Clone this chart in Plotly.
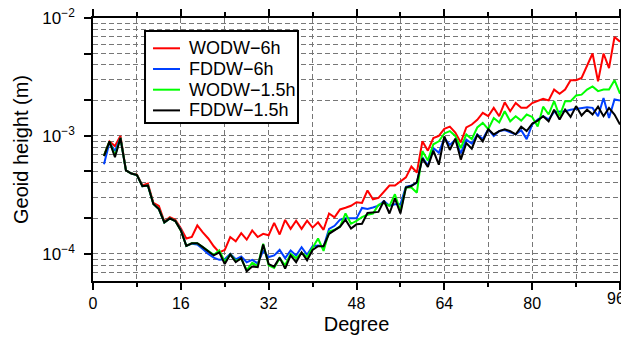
import plotly.graph_objects as go

degrees = list(range(2, 97))

wodw_6h = [6.8e-4, 9.0e-4, 8.2e-4, 1.0e-3, 5.1e-4, 4.8e-4, 4.7e-4, 3.8e-4, 3.95e-4, 2.7e-4,
           2.55e-4, 1.88e-4, 2.05e-4, 1.95e-4, 1.65e-4, 1.35e-4, 1.39e-4, 1.74e-4, 1.52e-4, 1.35e-4,
           1.16e-4, 1.03e-4, 1.08e-4, 1.39e-4, 1.28e-4, 1.5e-4, 1.32e-4, 1.58e-4, 1.39e-4, 1.48e-4,
           1.44e-4, 1.83e-4, 1.46e-4, 1.94e-4, 1.63e-4, 1.91e-4, 1.63e-4, 1.91e-4, 1.67e-4, 1.85e-4,
           1.6e-4, 2.2e-4, 2.04e-4, 2.38e-4, 2.46e-4, 2.56e-4, 2.74e-4, 2.7e-4, 3.45e-4, 2.9e-4,
           2.98e-4, 3.4e-4, 3.8e-4, 3.8e-4, 4.15e-4, 4.45e-4, 5.5e-4, 4.9e-4, 9.0e-4, 7.5e-4,
           9.6e-4, 1.0e-3, 1.15e-3, 1.2e-3, 1.07e-3, 8.8e-4, 1.18e-3, 1.25e-3, 1.37e-3, 1.57e-3,
           1.47e-3, 1.73e-3, 1.47e-3, 1.93e-3, 1.62e-3, 1.9e-3, 1.73e-3, 1.73e-3, 1.9e-3, 1.97e-3,
           2.06e-3, 2.0e-3, 2.47e-3, 2.28e-3, 2.47e-3, 2.97e-3, 2.97e-3, 3.1e-3, 3.88e-3, 5.0e-3,
           2.9e-3, 5.0e-3, 3.76e-3, 6.9e-3, 6.3e-3]

fddw_6h = [5.75e-4, 8.8e-4, 7.45e-4, 9.6e-4, 5.1e-4, 4.8e-4, 4.65e-4, 3.75e-4, 3.8e-4, 2.65e-4,
           2.4e-4, 1.85e-4, 2.0e-4, 1.9e-4, 1.6e-4, 1.17e-4, 1.22e-4, 1.2e-4, 1.1e-4, 1.0e-4,
           9.3e-5, 8.9e-5, 9.0e-5, 1.0e-4, 9.0e-5, 9.5e-5, 8.5e-5, 8.9e-5, 8.3e-5, 1.06e-4,
           9.4e-5, 9.7e-5, 1.08e-4, 9.2e-5, 1.07e-4, 9.7e-5, 1.14e-4, 9.8e-5, 1.16e-4, 1.18e-4,
           1.15e-4, 1.63e-4, 1.73e-4, 1.95e-4, 2.0e-4, 2.0e-4, 2.0e-4, 2.45e-4, 2.4e-4, 2.47e-4,
           2.56e-4, 2.8e-4, 2.56e-4, 2.63e-4, 2.63e-4, 3.7e-4, 3.8e-4, 4.0e-4, 6.6e-4, 5.6e-4,
           7.9e-4, 7.2e-4, 9.6e-4, 8.4e-4, 9.3e-4, 7.1e-4, 9.3e-4, 8.6e-4, 1.03e-3, 9.4e-4,
           1.14e-3, 1.0e-3, 1.1e-3, 1.12e-3, 1.07e-3, 1.03e-3, 1.12e-3, 9.4e-4, 1.25e-3, 1.38e-3,
           1.47e-3, 1.38e-3, 1.6e-3, 1.62e-3, 1.62e-3, 1.67e-3, 1.7e-3, 1.73e-3, 1.75e-3, 1.73e-3,
           1.47e-3, 2.1e-3, 1.42e-3, 2.04e-3, 2.0e-3]

wodw_15h = [6.8e-4, 9.0e-4, 6.8e-4, 9.6e-4, 5.1e-4, 4.8e-4, 4.65e-4, 3.75e-4, 3.8e-4, 2.65e-4,
            2.4e-4, 1.85e-4, 2.0e-4, 1.9e-4, 1.58e-4, 1.17e-4, 1.23e-4, 1.23e-4, 1.14e-4, 1.06e-4,
            9.8e-5, 1.07e-4, 8.6e-5, 9.9e-5, 8.7e-5, 9.1e-5, 7.3e-5, 8.4e-5, 7.9e-5, 1.22e-4,
            8.0e-5, 7.6e-5, 9.2e-5, 8.0e-5, 1.0e-4, 9.2e-5, 1.02e-4, 9.4e-5, 1.13e-4, 1.35e-4,
            1.06e-4, 1.55e-4, 1.6e-4, 1.7e-4, 2.2e-4, 1.8e-4, 1.9e-4, 2.05e-4, 2.15e-4, 2.2e-4,
            2.6e-4, 2.7e-4, 2.55e-4, 3.2e-4, 2.3e-4, 3.65e-4, 3.65e-4, 3.3e-4, 7.45e-4, 6.2e-4,
            8.5e-4, 9.0e-4, 1.05e-3, 1.1e-3, 1.0e-3, 7.9e-4, 1.03e-3, 9.4e-4, 1.18e-3, 1.29e-3,
            1.14e-3, 1.42e-3, 1.3e-3, 1.62e-3, 1.33e-3, 1.47e-3, 1.35e-3, 1.52e-3, 1.45e-3, 1.2e-3,
            1.77e-3, 1.52e-3, 1.97e-3, 1.47e-3, 1.97e-3, 1.97e-3, 2.2e-3, 2.24e-3, 2.47e-3, 2.63e-3,
            2.4e-3, 2.47e-3, 2.47e-3, 2.97e-3, 2.28e-3]

fddw_15h = [6.75e-4, 9.0e-4, 6.6e-4, 9.6e-4, 5.1e-4, 4.8e-4, 4.65e-4, 3.75e-4, 3.8e-4, 2.65e-4,
            2.4e-4, 1.85e-4, 2.0e-4, 1.9e-4, 1.58e-4, 1.17e-4, 1.23e-4, 1.23e-4, 1.14e-4, 1.06e-4,
            9.7e-5, 1.03e-4, 8.2e-5, 9.9e-5, 8.5e-5, 9.2e-5, 7.1e-5, 7.8e-5, 7.7e-5, 1.2e-4,
            8.2e-5, 7.8e-5, 9.3e-5, 7.5e-5, 9.7e-5, 8.5e-5, 1.03e-4, 8.8e-5, 1.08e-4, 1.16e-4,
            1.16e-4, 1.48e-4, 1.6e-4, 1.7e-4, 1.95e-4, 1.64e-4, 1.78e-4, 1.8e-4, 2.22e-4, 2.25e-4,
            2.27e-4, 2.82e-4, 2.2e-4, 2.95e-4, 2.2e-4, 3.65e-4, 3.76e-4, 4.05e-4, 6.45e-4, 5.45e-4,
            7.5e-4, 5.7e-4, 9.9e-4, 7.6e-4, 9.5e-4, 6.3e-4, 8.7e-4, 7.8e-4, 1.02e-3, 9.0e-4,
            1.14e-3, 1.03e-3, 1.1e-3, 1.14e-3, 1.1e-3, 1.03e-3, 1.2e-3, 1.1e-3, 1.27e-3, 1.35e-3,
            1.47e-3, 1.33e-3, 1.67e-3, 1.38e-3, 1.67e-3, 1.45e-3, 1.79e-3, 1.49e-3, 1.67e-3, 1.52e-3,
            1.77e-3, 1.47e-3, 1.73e-3, 1.52e-3, 1.25e-3]

series_names = ["WODW\u22126h", "FDDW\u22126h", "WODW\u22121.5h", "FDDW\u22121.5h"]
series_values = [wodw_6h, fddw_6h, wodw_15h, fddw_15h]
series_colors = ["#ff0000", "#0040ff", "#00ff00", "#000000"]

x_major = list(range(0, 97, 16))
x_major_text = [str(v) for v in x_major[:-1]] + [""]   # last label is placed separately
x_last_label = str(x_major[-1])
x_minor = list(range(8, 96, 16))

y_tickvals = [1e-4, 2e-4, 5e-4, 1e-3, 2e-3, 5e-3, 1e-2]
y_ticktext = ["10<sup>\u22124</sup>", "", "", "10<sup>\u22123</sup>", "", "", "10<sup>\u22122</sup>"]
y_gridvals = [m * 10.0 ** e for e in (-5, -4, -3) for m in range(1, 10)] + [1e-2]

fig = go.Figure()
for name, vals, col in zip(series_names, series_values, series_colors):
    fig.add_trace(go.Scatter(x=degrees, y=vals, mode="lines", name=name,
                             line=dict(color=col, width=2), showlegend=False))

font_family = "Liberation Sans, Arial, sans-serif"
grid_kw = dict(gridcolor="#777777", gridwidth=1, griddash="5px,3px")

# legend box drawn in paper coordinates (tight row spacing as in the original)
leg_box = dict(x0=0.0987, x1=0.389, y0=0.601, y1=0.9506)
leg_rows = [0.8848, 0.8061, 0.7274, 0.6487]
leg_line_x = (0.1139, 0.1651)
leg_text_x = 0.1784

shapes = [dict(type="rect", xref="paper", yref="paper", layer="above",
               fillcolor="white", line=dict(color="black", width=2), **leg_box)]
annotations = []
for name, col, ry in zip(series_names, series_colors, leg_rows):
    shapes.append(dict(type="line", xref="paper", yref="paper", layer="above",
                       x0=leg_line_x[0], x1=leg_line_x[1], y0=ry, y1=ry,
                       line=dict(color=col, width=2)))
    annotations.append(dict(text=name, xref="paper", yref="paper", x=leg_text_x, y=ry,
                            xanchor="left", yanchor="middle", showarrow=False,
                            font=dict(size=18, color="black")))

# last x tick label, kept inside the page edge
annotations.append(dict(text=x_last_label, xref="x", yref="paper", x=x_major[-1], y=0,
                        xanchor="center", yanchor="top", xshift=-4, yshift=-7,
                        showarrow=False, font=dict(size=16, color="black")))

# the page body adds an 8px offset; the figure is sized to end at the window edge
fig.update_layout(
    width=621, height=331,
    margin=dict(l=85, r=9, t=10, b=58),
    paper_bgcolor="white", plot_bgcolor="white",
    font=dict(family=font_family, size=16, color="black"),
    showlegend=False,
    shapes=shapes, annotations=annotations,
    xaxis=dict(range=[0, 96], tickmode="array", tickvals=x_major, ticktext=x_major_text,
               showgrid=True, **grid_kw, automargin=False,
               minor=dict(tickmode="array", tickvals=x_minor, showgrid=True, ticks="outside",
                          ticklen=4, tickwidth=1.5, tickcolor="black", **grid_kw),
               ticks="outside", ticklen=7, tickwidth=1.5, tickcolor="black",
               showline=True, linecolor="black", linewidth=1.5, mirror="allticks",
               zeroline=False, tickfont=dict(size=16), ticklabeloverflow="allow",
               title=dict(text="Degree", font=dict(size=20), standoff=6)),
    yaxis=dict(type="log", range=[-4.23, -2], tickmode="array", tickvals=y_tickvals,
               ticktext=y_ticktext, showgrid=False, automargin=False,
               minor=dict(tickmode="array", tickvals=y_gridvals, showgrid=True, ticks="",
                          **grid_kw),
               ticks="outside", ticklen=7, tickwidth=1.5, tickcolor="black",
               showline=True, linecolor="black", linewidth=1.5, mirror="allticks",
               ticklabelstandoff=6, tickfont=dict(size=17), ticklabeloverflow="allow",
               title=dict(text="Geoid height (m)", font=dict(size=20), standoff=8)),
)

fig.write_html("out.html")
